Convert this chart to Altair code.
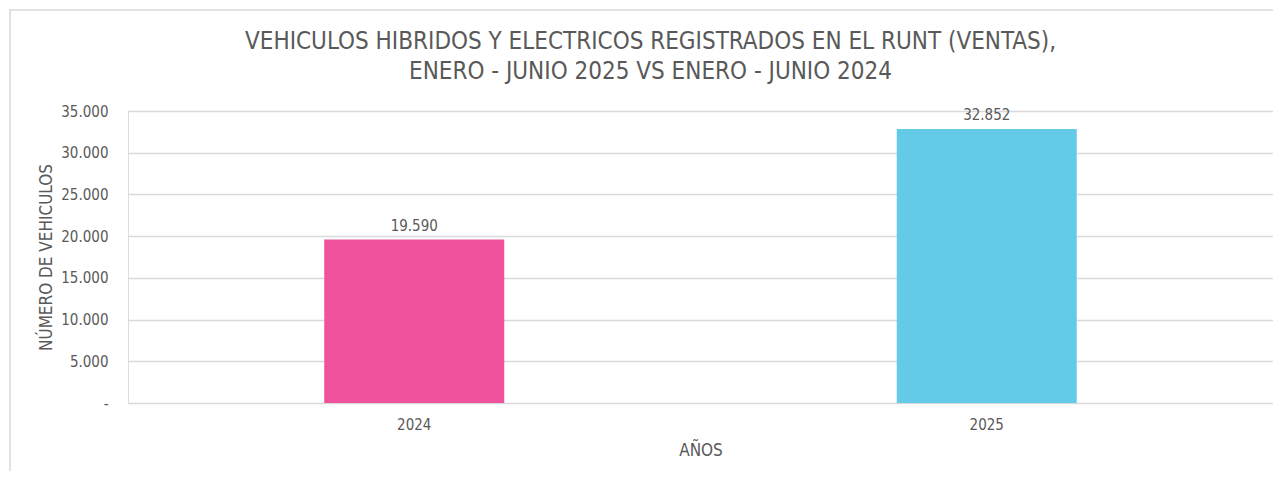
import altair as alt
import pandas as pd

years = ["2024", "2025"]
values = [19590, 32852]
labels = ["19.590", "32.852"]
colors = ["#F0519C", "#63CBE8"]

df = pd.DataFrame({"year": years, "value": values, "label": labels, "color": colors})

FONT = "'Liberation Sans Narrow', 'Arial Narrow', 'DejaVu Sans Condensed', 'Liberation Sans', sans-serif"
GREY = "#595959"

base = alt.Chart(df)

border = base.mark_rect(fill=None, stroke="#D9D9D9", strokeWidth=1.5, clip=False).encode(
    x=alt.value(-118), x2=alt.value(1170), y=alt.value(-101), y2=alt.value(400)
).transform_filter(alt.datum.year == "2024")

bars = base.mark_bar(size=180).encode(
    x=alt.X("year:N", sort=years,
            scale=alt.Scale(paddingInner=0, paddingOuter=0),
            axis=alt.Axis(title="AÑOS", labelAngle=0, labelFontSize=15, labelColor=GREY,
                          labelFont=FONT, titleFont=FONT, titleFontSize=17, titleColor=GREY,
                          titleFontWeight="normal", labelPadding=14, titlePadding=10,
                          ticks=False, domain=False, grid=False)),
    y=alt.Y("value:Q", scale=alt.Scale(domain=[0, 35000], nice=False),
            axis=alt.Axis(title="NÚMERO DE VEHICULOS", values=[0, 5000, 10000, 15000, 20000, 25000, 30000, 35000],
                          labelExpr="datum.value == 0 ? '-' : replace(format(datum.value, ','), ',', '.')",
                          labelFontSize=15, labelColor=GREY, labelFont=FONT,
                          titleFont=FONT, titleFontSize=17, titleColor=GREY, titleFontWeight="normal",
                          labelPadding=20, titlePadding=5, ticks=False, domain=False,
                          gridColor="#D9D9D9", gridWidth=1.5)),
    color=alt.Color("color:N", scale=None),
)

text = base.mark_text(dy=-14, fontSize=15, color=GREY, font=FONT).encode(
    x=alt.X("year:N", sort=years),
    y="value:Q",
    text="label:N",
)

chart = alt.layer(border, bars, text).properties(
    width=1145, height=292,
    title=alt.TitleParams(
        text=["VEHICULOS HIBRIDOS Y ELECTRICOS REGISTRADOS EN EL RUNT (VENTAS),",
              "ENERO - JUNIO 2025 VS ENERO - JUNIO 2024"],
        font=FONT, fontSize=24, fontWeight="normal", color=GREY,
        anchor="middle", frame="group", dx=-50, dy=103, offset=28, lineHeight=30,
    ),
    autosize=alt.AutoSizeParams(type="none"),
    padding={"left": 120, "top": 103, "right": 0, "bottom": 68},
).configure_view(stroke=None).configure(background="white")

chart.save("out.html", embed_options={"renderer": "svg", "actions": False})
